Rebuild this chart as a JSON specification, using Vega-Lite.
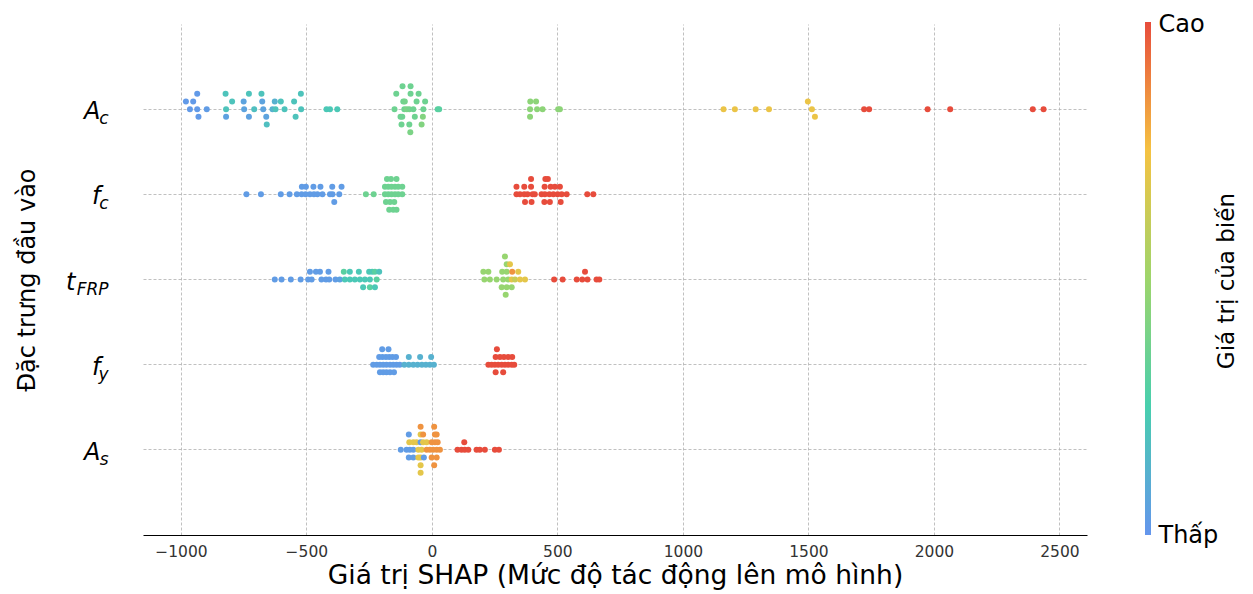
{
  "$schema": "https://vega.github.io/schema/vega-lite/v6.json",
  "autosize": "none",
  "width": 944,
  "height": 511,
  "padding": {"left": 143, "top": 24, "right": 166, "bottom": 59},
  "config": {
    "view": {"stroke": null},
    "font": "DejaVu Sans",
    "axis": {"titleFontWeight": "normal", "titleColor": "#000", "titleFont": "DejaVu Sans", "labelFont": "DejaVu Sans"},
    "legend": {"titleFont": "DejaVu Sans", "labelFont": "DejaVu Sans"}
  },
  "layer": [
    {
      "mark": {"type": "rule", "color": "#808080", "strokeWidth": 2.5},
      "encoding": {"x": {"datum": 0, "type": "quantitative"}}
    },
    {
      "data": {"values": [
        {"f":"Ac","v":-980,"l":1,"c":0.02},{"f":"Ac","v":-964,"l":0,"c":0.02},{"f":"Ac","v":-951,"l":1,"c":0.02},{"f":"Ac","v":-935,"l":2,"c":0.02},{"f":"Ac","v":-935,"l":0,"c":0.02},{"f":"Ac","v":-930,"l":-1,"c":0.02},{"f":"Ac","v":-897,"l":0,"c":0.03},
        {"f":"Ac","v":-822,"l":2,"c":0.2},{"f":"Ac","v":-820,"l":0,"c":0.2},{"f":"Ac","v":-820,"l":-1,"c":0.05},{"f":"Ac","v":-796,"l":1,"c":0.2},{"f":"Ac","v":-750,"l":1,"c":0.06},{"f":"Ac","v":-748,"l":0,"c":0.06},{"f":"Ac","v":-729,"l":2,"c":0.2},{"f":"Ac","v":-729,"l":-1,"c":0.05},{"f":"Ac","v":-708,"l":0,"c":0.18},{"f":"Ac","v":-679,"l":2,"c":0.2},{"f":"Ac","v":-676,"l":1,"c":0.06},{"f":"Ac","v":-672,"l":0,"c":0.06},{"f":"Ac","v":-660,"l":-1,"c":0.06},{"f":"Ac","v":-658,"l":-2,"c":0.18},{"f":"Ac","v":-635,"l":0,"c":0.12},{"f":"Ac","v":-626,"l":1,"c":0.12},{"f":"Ac","v":-623,"l":0,"c":0.2},{"f":"Ac","v":-602,"l":1,"c":0.2},{"f":"Ac","v":-587,"l":0,"c":0.2},{"f":"Ac","v":-549,"l":1,"c":0.2},{"f":"Ac","v":-543,"l":-1,"c":0.2},{"f":"Ac","v":-522,"l":2,"c":0.2},{"f":"Ac","v":-521,"l":0,"c":0.2},{"f":"Ac","v":-420,"l":0,"c":0.22},{"f":"Ac","v":-406,"l":0,"c":0.22},{"f":"Ac","v":-377,"l":0,"c":0.22},
        {"f":"Ac","v":-117,"l":3,"c":0.36},{"f":"Ac","v":-85,"l":3,"c":0.36},{"f":"Ac","v":-142,"l":2,"c":0.36},{"f":"Ac","v":-85,"l":2,"c":0.36},{"f":"Ac","v":-53,"l":2,"c":0.36},{"f":"Ac","v":-114,"l":1,"c":0.36},{"f":"Ac","v":-108,"l":1,"c":0.38},{"f":"Ac","v":-61,"l":1,"c":0.36},{"f":"Ac","v":-27,"l":1,"c":0.36},{"f":"Ac","v":-149,"l":0,"c":0.36},{"f":"Ac","v":-110,"l":0,"c":0.36},{"f":"Ac","v":-100,"l":0,"c":0.4},{"f":"Ac","v":-90,"l":0,"c":0.38},{"f":"Ac","v":-74,"l":0,"c":0.36},{"f":"Ac","v":-34,"l":0,"c":0.36},{"f":"Ac","v":23,"l":0,"c":0.3},{"f":"Ac","v":29,"l":0,"c":0.3},{"f":"Ac","v":-125,"l":-1,"c":0.36},{"f":"Ac","v":-118,"l":-1,"c":0.36},{"f":"Ac","v":-68,"l":-1,"c":0.36},{"f":"Ac","v":-36,"l":-1,"c":0.42},{"f":"Ac","v":-121,"l":-2,"c":0.36},{"f":"Ac","v":-90,"l":-2,"c":0.36},{"f":"Ac","v":-41,"l":-2,"c":0.42},{"f":"Ac","v":-86,"l":-3,"c":0.4},
        {"f":"Ac","v":392,"l":1,"c":0.45},{"f":"Ac","v":415,"l":1,"c":0.45},{"f":"Ac","v":391,"l":0,"c":0.45},{"f":"Ac","v":419,"l":0,"c":0.45},{"f":"Ac","v":441,"l":0,"c":0.45},{"f":"Ac","v":503,"l":0,"c":0.45},{"f":"Ac","v":510,"l":0,"c":0.45},{"f":"Ac","v":391,"l":-1,"c":0.45},
        {"f":"Ac","v":1162,"l":0,"c":0.72},{"f":"Ac","v":1207,"l":0,"c":0.72},{"f":"Ac","v":1290,"l":0,"c":0.72},{"f":"Ac","v":1343,"l":0,"c":0.72},{"f":"Ac","v":1514,"l":0,"c":0.72},{"f":"Ac","v":1498,"l":1,"c":0.72},{"f":"Ac","v":1526,"l":-1,"c":0.72},
        {"f":"Ac","v":1722,"l":0,"c":1},{"f":"Ac","v":1742,"l":0,"c":1},{"f":"Ac","v":1975,"l":0,"c":1},{"f":"Ac","v":2065,"l":0,"c":1},{"f":"Ac","v":2394,"l":0,"c":1},{"f":"Ac","v":2437,"l":0,"c":1},

        {"f":"fc","v":-739,"l":0,"c":0.03},{"f":"fc","v":-681,"l":0,"c":0.03},{"f":"fc","v":-602,"l":0,"c":0.03},{"f":"fc","v":-567,"l":0,"c":0.03},{"f":"fc","v":-538,"l":0,"c":0.03},{"f":"fc","v":-519,"l":0,"c":0.03},{"f":"fc","v":-503,"l":0,"c":0.03},{"f":"fc","v":-486,"l":0,"c":0.03},{"f":"fc","v":-470,"l":0,"c":0.03},{"f":"fc","v":-456,"l":0,"c":0.03},{"f":"fc","v":-436,"l":0,"c":0.03},{"f":"fc","v":-406,"l":0,"c":0.03},{"f":"fc","v":-396,"l":0,"c":0.03},{"f":"fc","v":-369,"l":0,"c":0.03},
        {"f":"fc","v":-518,"l":1,"c":0.03},{"f":"fc","v":-502,"l":1,"c":0.03},{"f":"fc","v":-472,"l":1,"c":0.03},{"f":"fc","v":-444,"l":1,"c":0.03},{"f":"fc","v":-397,"l":1,"c":0.03},{"f":"fc","v":-360,"l":1,"c":0.03},{"f":"fc","v":-389,"l":-1,"c":0.03},
        {"f":"fc","v":-179,"l":2,"c":0.36},{"f":"fc","v":-163,"l":2,"c":0.36},{"f":"fc","v":-141,"l":2,"c":0.36},{"f":"fc","v":-187,"l":1,"c":0.36},{"f":"fc","v":-174,"l":1,"c":0.36},{"f":"fc","v":-161,"l":1,"c":0.36},{"f":"fc","v":-147,"l":1,"c":0.36},{"f":"fc","v":-134,"l":1,"c":0.36},{"f":"fc","v":-118,"l":1,"c":0.36},{"f":"fc","v":-263,"l":0,"c":0.36},{"f":"fc","v":-232,"l":0,"c":0.36},{"f":"fc","v":-187,"l":0,"c":0.36},{"f":"fc","v":-174,"l":0,"c":0.36},{"f":"fc","v":-161,"l":0,"c":0.36},{"f":"fc","v":-147,"l":0,"c":0.36},{"f":"fc","v":-134,"l":0,"c":0.36},{"f":"fc","v":-118,"l":0,"c":0.36},{"f":"fc","v":-183,"l":-1,"c":0.36},{"f":"fc","v":-167,"l":-1,"c":0.36},{"f":"fc","v":-150,"l":-1,"c":0.36},{"f":"fc","v":-170,"l":-2,"c":0.36},{"f":"fc","v":-154,"l":-2,"c":0.36},{"f":"fc","v":-141,"l":-2,"c":0.36},
        {"f":"fc","v":395,"l":2,"c":1},{"f":"fc","v":452,"l":2,"c":1},{"f":"fc","v":462,"l":2,"c":1},{"f":"fc","v":337,"l":1,"c":1},{"f":"fc","v":368,"l":1,"c":1},{"f":"fc","v":395,"l":1,"c":1},{"f":"fc","v":449,"l":1,"c":1},{"f":"fc","v":473,"l":1,"c":1},{"f":"fc","v":490,"l":1,"c":1},{"f":"fc","v":510,"l":1,"c":1},
        {"f":"fc","v":337,"l":0,"c":1},{"f":"fc","v":351,"l":0,"c":1},{"f":"fc","v":368,"l":0,"c":1},{"f":"fc","v":381,"l":0,"c":1},{"f":"fc","v":401,"l":0,"c":1},{"f":"fc","v":410,"l":0,"c":1},{"f":"fc","v":437,"l":0,"c":1},{"f":"fc","v":450,"l":0,"c":1},{"f":"fc","v":468,"l":0,"c":1},{"f":"fc","v":484,"l":0,"c":1},{"f":"fc","v":501,"l":0,"c":1},{"f":"fc","v":517,"l":0,"c":1},{"f":"fc","v":537,"l":0,"c":1},{"f":"fc","v":619,"l":0,"c":1},{"f":"fc","v":643,"l":0,"c":1},
        {"f":"fc","v":371,"l":-1,"c":1},{"f":"fc","v":397,"l":-1,"c":1},{"f":"fc","v":448,"l":-1,"c":1},{"f":"fc","v":470,"l":-1,"c":1},{"f":"fc","v":513,"l":-1,"c":1},

        {"f":"tFRP","v":-626,"l":0,"c":0.03},{"f":"tFRP","v":-599,"l":0,"c":0.03},{"f":"tFRP","v":-562,"l":0,"c":0.03},{"f":"tFRP","v":-523,"l":0,"c":0.03},{"f":"tFRP","v":-493,"l":0,"c":0.03},{"f":"tFRP","v":-479,"l":0,"c":0.03},{"f":"tFRP","v":-440,"l":0,"c":0.03},{"f":"tFRP","v":-422,"l":0,"c":0.03},{"f":"tFRP","v":-409,"l":0,"c":0.03},{"f":"tFRP","v":-384,"l":0,"c":0.03},{"f":"tFRP","v":-367,"l":0,"c":0.05},
        {"f":"tFRP","v":-486,"l":1,"c":0.03},{"f":"tFRP","v":-462,"l":1,"c":0.03},{"f":"tFRP","v":-446,"l":1,"c":0.03},{"f":"tFRP","v":-412,"l":1,"c":0.03},
        {"f":"tFRP","v":-351,"l":1,"c":0.3},{"f":"tFRP","v":-327,"l":1,"c":0.22},{"f":"tFRP","v":-291,"l":1,"c":0.22},{"f":"tFRP","v":-250,"l":1,"c":0.22},{"f":"tFRP","v":-238,"l":1,"c":0.22},{"f":"tFRP","v":-227,"l":1,"c":0.3},{"f":"tFRP","v":-210,"l":1,"c":0.2},
        {"f":"tFRP","v":-347,"l":0,"c":0.22},{"f":"tFRP","v":-327,"l":0,"c":0.22},{"f":"tFRP","v":-307,"l":0,"c":0.22},{"f":"tFRP","v":-287,"l":0,"c":0.22},{"f":"tFRP","v":-267,"l":0,"c":0.22},{"f":"tFRP","v":-247,"l":0,"c":0.22},{"f":"tFRP","v":-220,"l":0,"c":0.3},
        {"f":"tFRP","v":-274,"l":-1,"c":0.22},{"f":"tFRP","v":-247,"l":-1,"c":0.3},{"f":"tFRP","v":-227,"l":-1,"c":0.22},
        {"f":"tFRP","v":291,"l":3,"c":0.48},{"f":"tFRP","v":298,"l":2,"c":0.48},{"f":"tFRP","v":311,"l":2,"c":0.7},{"f":"tFRP","v":205,"l":1,"c":0.48},{"f":"tFRP","v":225,"l":1,"c":0.48},{"f":"tFRP","v":280,"l":1,"c":0.48},{"f":"tFRP","v":298,"l":1,"c":0.48},{"f":"tFRP","v":320,"l":1,"c":0.85},{"f":"tFRP","v":344,"l":1,"c":0.7},
        {"f":"tFRP","v":209,"l":0,"c":0.48},{"f":"tFRP","v":231,"l":0,"c":0.48},{"f":"tFRP","v":258,"l":0,"c":0.48},{"f":"tFRP","v":284,"l":0,"c":0.48},{"f":"tFRP","v":304,"l":0,"c":0.48},{"f":"tFRP","v":318,"l":0,"c":0.7},{"f":"tFRP","v":331,"l":0,"c":0.62},{"f":"tFRP","v":351,"l":0,"c":0.7},{"f":"tFRP","v":371,"l":0,"c":0.7},
        {"f":"tFRP","v":278,"l":-1,"c":0.48},{"f":"tFRP","v":298,"l":-1,"c":0.48},{"f":"tFRP","v":318,"l":-1,"c":0.48},{"f":"tFRP","v":294,"l":-2,"c":0.48},
        {"f":"tFRP","v":487,"l":0,"c":1},{"f":"tFRP","v":521,"l":0,"c":1},{"f":"tFRP","v":577,"l":0,"c":1},{"f":"tFRP","v":599,"l":0,"c":1},{"f":"tFRP","v":620,"l":0,"c":1},{"f":"tFRP","v":656,"l":0,"c":1},{"f":"tFRP","v":667,"l":0,"c":1},{"f":"tFRP","v":610,"l":1,"c":1},

        {"f":"fy","v":-198,"l":2,"c":0.03},{"f":"fy","v":-173,"l":2,"c":0.03},{"f":"fy","v":-210,"l":1,"c":0.03},{"f":"fy","v":-197,"l":1,"c":0.03},{"f":"fy","v":-183,"l":1,"c":0.03},{"f":"fy","v":-170,"l":1,"c":0.03},{"f":"fy","v":-157,"l":1,"c":0.03},{"f":"fy","v":-143,"l":1,"c":0.03},
        {"f":"fy","v":-234,"l":0,"c":0.03},{"f":"fy","v":-220,"l":0,"c":0.03},{"f":"fy","v":-207,"l":0,"c":0.03},{"f":"fy","v":-194,"l":0,"c":0.03},{"f":"fy","v":-181,"l":0,"c":0.03},{"f":"fy","v":-167,"l":0,"c":0.03},{"f":"fy","v":-154,"l":0,"c":0.03},{"f":"fy","v":-141,"l":0,"c":0.03},{"f":"fy","v":-128,"l":0,"c":0.03},
        {"f":"fy","v":-207,"l":-1,"c":0.03},{"f":"fy","v":-194,"l":-1,"c":0.03},{"f":"fy","v":-181,"l":-1,"c":0.03},{"f":"fy","v":-167,"l":-1,"c":0.03},{"f":"fy","v":-151,"l":-1,"c":0.03},
        {"f":"fy","v":-110,"l":0,"c":0.12},{"f":"fy","v":-92,"l":0,"c":0.12},{"f":"fy","v":-74,"l":0,"c":0.12},{"f":"fy","v":-57,"l":0,"c":0.12},{"f":"fy","v":-40,"l":0,"c":0.12},{"f":"fy","v":-24,"l":0,"c":0.12},{"f":"fy","v":-8,"l":0,"c":0.12},{"f":"fy","v":8,"l":0,"c":0.12},{"f":"fy","v":-92,"l":1,"c":0.12},{"f":"fy","v":-47,"l":1,"c":0.12},{"f":"fy","v":-3,"l":1,"c":0.12},
        {"f":"fy","v":259,"l":2,"c":1},{"f":"fy","v":254,"l":1,"c":1},{"f":"fy","v":271,"l":1,"c":1},{"f":"fy","v":287,"l":1,"c":1},{"f":"fy","v":304,"l":1,"c":1},{"f":"fy","v":320,"l":1,"c":1},
        {"f":"fy","v":225,"l":0,"c":1},{"f":"fy","v":238,"l":0,"c":1},{"f":"fy","v":251,"l":0,"c":1},{"f":"fy","v":264,"l":0,"c":1},{"f":"fy","v":278,"l":0,"c":1},{"f":"fy","v":291,"l":0,"c":1},{"f":"fy","v":304,"l":0,"c":1},{"f":"fy","v":318,"l":0,"c":1},{"f":"fy","v":328,"l":0,"c":1},{"f":"fy","v":254,"l":-1,"c":1},{"f":"fy","v":284,"l":-1,"c":1},

        {"f":"As","v":-45,"l":3,"c":0.85},{"f":"As","v":9,"l":3,"c":0.85},
        {"f":"As","v":-92,"l":2,"c":0.03},{"f":"As","v":-45,"l":2,"c":0.7},{"f":"As","v":-35,"l":2,"c":0.85},{"f":"As","v":12,"l":2,"c":0.85},{"f":"As","v":19,"l":2,"c":0.85},
        {"f":"As","v":-90,"l":1,"c":0.7},{"f":"As","v":-74,"l":1,"c":0.7},{"f":"As","v":-61,"l":1,"c":0.7},{"f":"As","v":-45,"l":1,"c":0.03},{"f":"As","v":-35,"l":1,"c":0.7},{"f":"As","v":-21,"l":1,"c":0.7},{"f":"As","v":-1,"l":1,"c":0.85},{"f":"As","v":12,"l":1,"c":0.85},{"f":"As","v":23,"l":1,"c":0.85},
        {"f":"As","v":-124,"l":0,"c":0.03},{"f":"As","v":-101,"l":0,"c":0.03},{"f":"As","v":-88,"l":0,"c":0.03},{"f":"As","v":-74,"l":0,"c":0.03},{"f":"As","v":-54,"l":0,"c":0.7},{"f":"As","v":-41,"l":0,"c":0.7},{"f":"As","v":-21,"l":0,"c":0.85},{"f":"As","v":-8,"l":0,"c":0.85},{"f":"As","v":5,"l":0,"c":0.85},{"f":"As","v":19,"l":0,"c":0.85},{"f":"As","v":32,"l":0,"c":0.85},
        {"f":"As","v":-92,"l":-1,"c":0.03},{"f":"As","v":-74,"l":-1,"c":0.03},{"f":"As","v":-54,"l":-1,"c":0.7},{"f":"As","v":-45,"l":-1,"c":0.7},{"f":"As","v":-32,"l":-1,"c":0.03},{"f":"As","v":-1,"l":-1,"c":0.85},{"f":"As","v":19,"l":-1,"c":0.85},
        {"f":"As","v":-45,"l":-2,"c":0.7},{"f":"As","v":9,"l":-2,"c":0.85},{"f":"As","v":-45,"l":-3,"c":0.7},
        {"f":"As","v":102,"l":0,"c":1},{"f":"As","v":118,"l":0,"c":1},{"f":"As","v":131,"l":0,"c":1},{"f":"As","v":145,"l":0,"c":1},{"f":"As","v":178,"l":0,"c":1},{"f":"As","v":191,"l":0,"c":1},{"f":"As","v":211,"l":0,"c":1},{"f":"As","v":251,"l":0,"c":1},{"f":"As","v":267,"l":0,"c":1},{"f":"As","v":129,"l":1,"c":1}
      ]},
      "mark": {"type": "circle", "size": 36, "opacity": 1},
      "encoding": {
        "x": {
          "field": "v", "type": "quantitative",
          "scale": {"domain": [-1151, 2610], "nice": false, "zero": false},
          "axis": {
            "values": [-1000, -500, 0, 500, 1000, 1500, 2000, 2500], "format": "d",
            "grid": true, "gridDash": [3, 2], "gridColor": "#b0b0b0", "gridWidth": 0.8,
            "domain": true, "domainColor": "#000", "domainWidth": 1,
            "ticks": false, "tickSize": 0,
            "labelFontSize": 15.5, "labelColor": "#333", "labelPadding": 9,
            "title": "Giá trị SHAP (Mức độ tác động lên mô hình)",
            "titleFontSize": 26.5, "titlePadding": 3
          }
        },
        "y": {
          "field": "f", "type": "nominal",
          "scale": {"type": "band", "domain": ["Ac", "fc", "tFRP", "fy", "As"], "paddingInner": 0, "paddingOuter": 0.5},
          "axis": {
            "orient": "left", "bandPosition": 0.5,
            "grid": true, "gridDash": [3, 2], "gridColor": "#b0b0b0", "gridWidth": 0.8,
            "domain": false, "ticks": false, "tickSize": 0,
            "labelExpr": "substring(datum.value, 0, 1)",
            "labelFontStyle": "italic", "labelFontSize": 24, "labelColor": "#000",
            "labelBaseline": "alphabetic", "labelOffset": 10, "labelAlign": "right",
            "labelPadding": {"condition": {"test": "datum.value == 'tFRP'", "value": 68}, "value": 43},
            "title": "Đặc trưng đầu vào", "titleFontSize": 24, "titlePadding": 26
          }
        },
        "yOffset": {"field": "l", "type": "quantitative", "scale": {"domain": [-6, 6], "range": [88.6, -3.4]}},
        "color": {
          "field": "c", "type": "quantitative",
          "scale": {"domain": [0, 0.25, 0.5, 0.75, 1], "range": ["#6495ED", "#48CFAE", "#9ED56B", "#F5C242", "#E74C3C"], "interpolate": "rgb"},
          "legend": {
            "orient": "none", "legendX": 1002, "legendY": -2, "direction": "vertical",
            "gradientLength": 513, "gradientThickness": 6, "gradientStrokeWidth": 0,
            "values": [0, 1], "labelExpr": "''", "title": null
          }
        }
      }
    },
    {
      "data": {"values": [{"f": "Ac"}, {"f": "fc"}, {"f": "tFRP"}, {"f": "fy"}, {"f": "As"}]},
      "mark": {"type": "point", "opacity": 0},
      "encoding": {
        "y": {
          "field": "f", "type": "nominal",
          "scale": {"type": "band", "domain": ["Ac", "fc", "tFRP", "fy", "As"], "paddingInner": 0, "paddingOuter": 0.5},
          "axis": {
            "orient": "left", "bandPosition": 0.5, "grid": false, "domain": false, "ticks": false, "tickSize": 0,
            "labelExpr": "substring(datum.value, 1)",
            "labelFontStyle": "italic", "labelFontSize": 17, "labelColor": "#000",
            "labelBaseline": "alphabetic", "labelOffset": 15, "labelAlign": "right", "labelPadding": 35,
            "title": null
          }
        }
      }
    },
    {
      "data": {"values": [{"k": 0}, {"k": 1}]},
      "mark": {"type": "point", "opacity": 0},
      "encoding": {
        "y": {
          "field": "k", "type": "quantitative",
          "scale": {"domain": [0, 1], "nice": false, "zero": false},
          "axis": {
            "orient": "right", "values": [0, 1],
            "labelExpr": "datum.value >= 1 ? 'Cao' : 'Thấp'",
            "labelFlush": false, "labelBaseline": "middle", "labelAlign": "left", "labelPadding": 71,
            "labelFontSize": 24, "labelColor": "#000", "labelOverlap": false,
            "domain": false, "ticks": false, "tickSize": 0, "grid": false,
            "title": "Giá trị của biến", "titleAngle": 270, "titleFontSize": 23,
            "titleX": 139, "titleY": 256.6, "titleAlign": "center", "titleBaseline": "middle", "titleLimit": 0
          }
        }
      }
    }
  ],
  "resolve": {"scale": {"y": "independent"}, "axis": {"y": "independent"}}
}
